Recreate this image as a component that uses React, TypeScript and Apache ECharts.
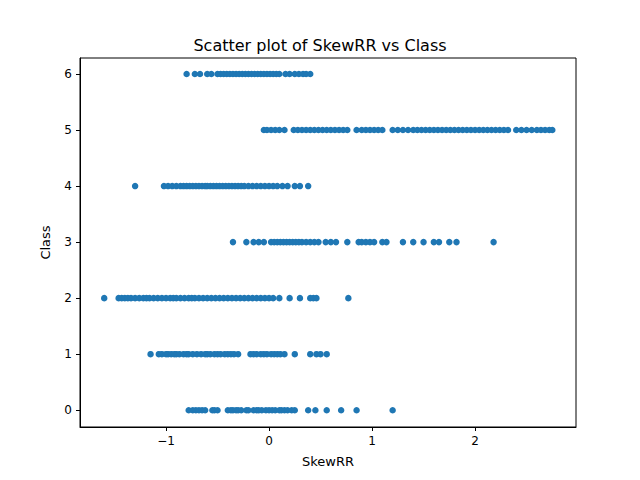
import { useEffect, useRef } from "react";
import * as echarts from "echarts";

const class0 = [-0.78, -0.74, -0.71, -0.68, -0.65, -0.62, -0.55, -0.53, -0.5, -0.4, -0.37, -0.35, -0.32, -0.3, -0.27, -0.22, -0.2, -0.15, -0.12, -0.1, -0.07, -0.03, 0.0, 0.03, 0.06, 0.1, 0.12, 0.15, 0.18, 0.22, 0.25, 0.38, 0.45, 0.56, 0.7, 0.85, 1.2];
const class1 = [-1.15, -1.07, -1.04, -1.0, -0.98, -0.95, -0.92, -0.9, -0.87, -0.83, -0.8, -0.78, -0.74, -0.7, -0.66, -0.62, -0.6, -0.57, -0.53, -0.5, -0.47, -0.43, -0.4, -0.37, -0.34, -0.3, -0.18, -0.15, -0.12, -0.08, -0.05, -0.02, 0.02, 0.05, 0.08, 0.11, 0.15, 0.25, 0.4, 0.46, 0.5, 0.56];
const class2 = [-1.6, -1.46, -1.43, -1.4, -1.37, -1.34, -1.3, -1.26, -1.22, -1.19, -1.16, -1.12, -1.08, -1.04, -1.0, -0.96, -0.93, -0.9, -0.86, -0.82, -0.78, -0.75, -0.72, -0.68, -0.64, -0.6, -0.56, -0.52, -0.48, -0.44, -0.4, -0.36, -0.32, -0.28, -0.24, -0.2, -0.16, -0.12, -0.08, -0.04, 0.0, 0.04, 0.1, 0.2, 0.3, 0.4, 0.43, 0.46, 0.77];
const class3 = [-0.35, -0.22, -0.15, -0.1, -0.05, 0.02, 0.05, 0.08, 0.11, 0.14, 0.17, 0.2, 0.23, 0.26, 0.29, 0.32, 0.36, 0.4, 0.44, 0.48, 0.55, 0.6, 0.65, 0.76, 0.87, 0.9, 0.94, 0.98, 1.02, 1.1, 1.14, 1.3, 1.4, 1.5, 1.6, 1.65, 1.75, 1.82, 2.18];
const class4 = [-1.3, -1.02, -0.98, -0.94, -0.9, -0.86, -0.83, -0.8, -0.77, -0.74, -0.71, -0.68, -0.65, -0.62, -0.6, -0.57, -0.54, -0.51, -0.48, -0.45, -0.42, -0.39, -0.36, -0.33, -0.3, -0.27, -0.24, -0.2, -0.16, -0.12, -0.08, -0.04, 0.0, 0.04, 0.08, 0.13, 0.18, 0.25, 0.3, 0.38];
const class5 = [-0.05, -0.02, 0.02, 0.06, 0.1, 0.15, 0.24, 0.28, 0.32, 0.36, 0.4, 0.44, 0.48, 0.52, 0.56, 0.6, 0.64, 0.68, 0.72, 0.76, 0.85, 0.9, 0.94, 0.98, 1.02, 1.06, 1.1, 1.2, 1.25, 1.3, 1.35, 1.4, 1.44, 1.48, 1.52, 1.56, 1.6, 1.64, 1.68, 1.72, 1.76, 1.8, 1.84, 1.88, 1.92, 1.96, 2.0, 2.04, 2.08, 2.12, 2.16, 2.2, 2.24, 2.28, 2.32, 2.4, 2.45, 2.5, 2.55, 2.6, 2.64, 2.68, 2.72, 2.75];
const class6 = [-0.8, -0.72, -0.67, -0.6, -0.56, -0.5, -0.47, -0.44, -0.41, -0.38, -0.35, -0.32, -0.29, -0.26, -0.23, -0.2, -0.17, -0.14, -0.11, -0.08, -0.05, -0.02, 0.01, 0.04, 0.07, 0.1, 0.16, 0.2, 0.25, 0.29, 0.33, 0.36, 0.4];
const classes = [class0, class1, class2, class3, class4, class5, class6];
const xTicks = [-1, 0, 1, 2];
const yTicks = [0, 1, 2, 3, 4, 5, 6];

export default function App() {
  const ref = useRef<HTMLDivElement>(null);

  useEffect(() => {
    if (!ref.current) return;
    const chart = echarts.init(ref.current, null, { renderer: "svg" });
    const points: number[][] = [];
    classes.forEach((xs, cls) => xs.forEach((x) => points.push([x, cls])));
    const axisCommon = {
      axisLine: { show: true, onZero: false, lineStyle: { color: "#000" } },
      splitLine: { show: false },
      axisTick: { show: true, length: 4, lineStyle: { color: "#000" } },
      nameLocation: "middle" as const,
      nameTextStyle: { color: "#000", fontSize: 13 },
    };
    chart.setOption({
      animation: false,
      textStyle: { fontFamily: "DejaVu Sans" },
      title: {
        text: "Scatter plot of SkewRR vs Class",
        left: "center",
        top: 32,
        textStyle: { fontSize: 16, fontWeight: "normal", color: "#000" },
      },
      grid: { left: 80, right: 64, top: 58, bottom: 53, show: true, borderColor: "#000", borderWidth: 1, backgroundColor: "transparent" },
      xAxis: {
        ...axisCommon,
        type: "value",
        min: -1.835,
        max: 2.98,
        name: "SkewRR",
        nameGap: 28,
        axisTick: { ...axisCommon.axisTick, customValues: xTicks },
        axisLabel: { color: "#000", fontSize: 12, customValues: xTicks, formatter: (v: number) => (v < 0 ? "\u2212" + Math.abs(v) : String(v)) },
      },
      yAxis: {
        ...axisCommon,
        type: "value",
        min: -0.3,
        max: 6.286,
        name: "Class",
        nameGap: 28,
        axisTick: { ...axisCommon.axisTick, customValues: yTicks },
        axisLabel: { color: "#000", fontSize: 12, customValues: yTicks },
      },
      series: [
        {
          type: "scatter",
          data: points,
          symbolSize: 6.5,
          itemStyle: { color: "#1f77b4", opacity: 1 },
        },
      ],
    });
    return () => chart.dispose();
  }, []);

  return <div ref={ref} style={{ width: 640, height: 480, margin: -8 }} />;
}
